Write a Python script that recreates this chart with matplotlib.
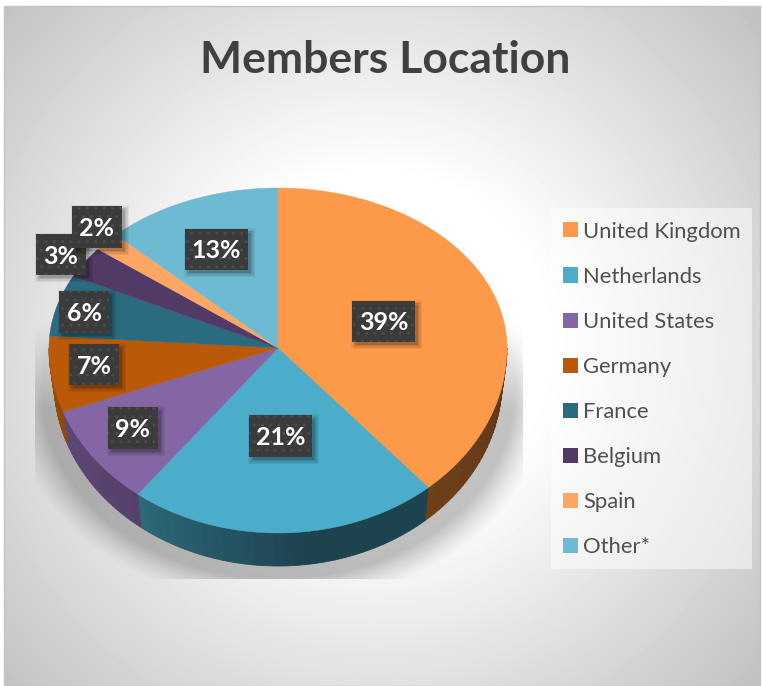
import numpy as np
import matplotlib
matplotlib.use('Agg')
import matplotlib.pyplot as plt
from matplotlib.patches import Polygon, Rectangle

plt.rcParams['font.family'] = ['Lato', 'DejaVu Sans']
plt.rcParams['hatch.linewidth'] = 1.0

# dados
paises = ['United Kingdom', 'Netherlands', 'United States', 'Germany',
          'France', 'Belgium', 'Spain', 'Other*']
valores = [38.6, 21.9, 8.9, 6.8, 6.2, 3.2, 1.9, 12.5]
rotulos = ['39%', '21%', '9%', '7%', '6%', '3%', '2%', '13%']
cores = ['#FD9A4A', '#4BADC9', '#8566A4', '#BA5A08',
         '#2A6B80', '#523A67', '#FEA765', '#6DBAD2']
titulo = 'Members Location'

W, H = 762, 686
fig = plt.figure(figsize=(W / 100, H / 100), dpi=100, facecolor='white')
ax = fig.add_axes([0, 0, 1, 1])

# geometria do pizza em pixels
cx, cy = 278, 348
rx, ry_cima, ry_baixo = 229, 160, 185
rx2, prof = 224, 33


def borda(theta, raio_x=rx, dy=0):
    # angulo em graus (matematico) -> pixel, metade de cima achatada
    t = np.radians(theta)
    x = np.cos(t)
    y = np.sin(t)
    return cx + raio_x * x, cy + dy - np.where(y > 0, ry_cima, ry_baixo) * y


# fatias vem do proprio pie, depois redesenhadas com a perspectiva
wedges, _ = ax.pie(valores, startangle=90, counterclock=False, colors=cores)
ax.set_aspect('auto')
ax.set_xlim(0, W)
ax.set_ylim(H, 0)
ax.axis('off')
ax.set_position([0, 0, 1, 1])

# fundo radial
yy, xx = np.mgrid[0:H, 0:W]
dist = np.hypot(xx - 375, yy - 345) / 520
fundo = 1.0 - 0.25 * np.clip((dist - 0.33) / 0.67, 0, 1)
img = ax.imshow(fundo, cmap='gray', vmin=0, vmax=1, extent=[0, W, H, 0],
                zorder=0, aspect='auto')
moldura = Rectangle((4, 6), 756, 680, transform=ax.transData)
img.set_clip_path(moldura)
ax.add_patch(Rectangle((4, 6), 756, 680, fill=False, ec='#C4C4C4', lw=1, zorder=1))

# sombra no chao
sx = (xx - 278) / 236
sy = (yy - 392) / 186
d = (np.hypot(sx, sy) - 1) * 200
sombra = 0.24 * np.clip(1 - d / 30, 0, 1) ** 1.3
sombra *= np.clip((yy - 320) / 90, 0, 1)
sombra[(yy > 578) | (xx < 35) | (xx > 522)] = 0
rgba = np.zeros((H, W, 4))
rgba[..., 3] = sombra
ax.imshow(rgba, extent=[0, W, H, 0], zorder=1.5, aspect='auto')

# lateral e topo
paredes = {0: ('#6E4018', '#5E361A'), 1: ('#2C6879', '#1D434F'),
           2: ('#5E4674', '#54406A'), 3: ('#A04E08', '#8E4607')}
for i, w in enumerate(wedges):
    w.set_visible(False)
    a, b = w.theta1 % 360, w.theta2 % 360
    if b <= a:
        b += 360
    if i in paredes:
        # so a parte de baixo aparece
        partes = [(max(a, 180), min(b, 360)), (max(a, 540), min(b, 720))]
        for ini, fim in partes:
            if fim <= ini:
                continue
            n = 30
            ts = np.linspace(ini, fim, n + 1)
            c1 = np.array(matplotlib.colors.to_rgb(paredes[i][0]))
            c2 = np.array(matplotlib.colors.to_rgb(paredes[i][1]))
            for k in range(n):
                tt = np.linspace(ts[k], ts[k + 1], 4)
                x1, y1 = borda(tt)
                x2, y2 = borda(tt[::-1], raio_x=rx2, dy=prof)
                # theta cresce da esquerda para a direita na parte de baixo
                mix = min(1, (k / n) * 1.8) if i == 1 else k / n
                cor = c1 * (1 - mix) + c2 * mix
                pts = np.column_stack([np.r_[x1, x2], np.r_[y1, y2]])
                ax.add_patch(Polygon(pts, fc=cor, ec=cor, lw=0.6, zorder=2))
    tt = np.linspace(a, b, 200)
    x, y = borda(tt)
    pts = np.column_stack([np.r_[cx, x], np.r_[cy, y]])
    ax.add_patch(Polygon(pts, fc=w.get_facecolor(), ec=w.get_facecolor(), lw=0.3, zorder=3))

# rotulos (ordem de desenho: 2% por cima do 3%)
caixas = {0: (352, 301, 63, 41), 1: (249, 415, 63, 42), 2: (108, 407, 50, 42),
          3: (69, 344, 50, 41), 4: (59, 291, 50, 42), 5: (36, 234, 50, 41),
          6: (72, 206, 50, 42), 7: (185, 229, 63, 41)}
for z, i in enumerate([7, 0, 1, 2, 3, 4, 5, 6]):
    bx, by, bw, bh = caixas[i]
    zz = 4 + z * 0.1
    for e, al in ((6, 0.06), (4.5, 0.08), (3, 0.1), (1.5, 0.13)):
        ax.add_patch(Rectangle((bx + 5 - e, by + 5 - e), bw + 2 * e - 4, bh + 2 * e - 4,
                               fc='black', alpha=al, ec='none', zorder=zz))
    ax.add_patch(Rectangle((bx, by), bw, bh, fc='#3B3B3B', ec='#4C4C4C', lw=0,
                           hatch='..', zorder=zz + 0.01))
    ax.text(bx + bw / 2, by + bh / 2 + 1.5, rotulos[i], color='white', fontsize=18,
            fontweight='bold', ha='center', va='center', zorder=zz + 0.02)

# titulo
ax.text(385, 60, titulo, color='#404040', fontsize=32, fontweight='bold',
        ha='center', va='center', zorder=6)

# legenda
ax.add_patch(Rectangle((551, 208), 201, 361, fc='white', alpha=0.5, ec='none', zorder=5))
handles = [Rectangle((0, 0), 1, 1, fc=c, ec='none') for c in cores]
leg = ax.legend(handles, paises, loc='upper left', bbox_to_anchor=(556 / W, 1 - 215 / H),
                frameon=False, fontsize=15.8, labelcolor='#505050', handlelength=0.68,
                handleheight=0.68, handletextpad=0.25, labelspacing=1.145, borderpad=0.3,
                borderaxespad=0)
leg.set_zorder(6)

fig.savefig('out.png', dpi=100, facecolor='white')
